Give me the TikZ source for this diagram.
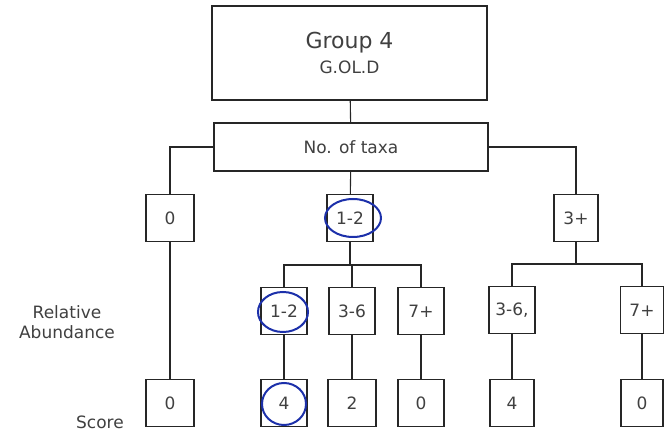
\documentclass[tikz,border=0pt]{standalone}
\usepackage{fontspec}
\setmainfont{DejaVu Sans}
\definecolor{pen}{RGB}{28,48,170}
\begin{document}
\begin{tikzpicture}[x=1pt,y=1pt,
  line/.style={draw=black!85, line width=1.1pt},
  box/.style={line, rectangle, inner sep=0pt, text=black!75,
    font=\fontsize{17}{19}\selectfont},
  cell/.style={box, minimum width=46pt, minimum height=47pt},
  lbl/.style={text=black!75, font=\fontsize{17}{20}\selectfont, align=center},
  ring/.style={draw=pen, line width=2pt}]
\useasboundingbox (0,0) rectangle (667,433);

% header boxes
\node[box, minimum width=275pt, minimum height=94pt, align=center] (top) at (349.5,380)
  {{\fontsize{22}{26}\selectfont Group 4}\\[6pt]G.OL.D};
\node[box, minimum width=274pt, minimum height=48pt] (taxa) at (351,286) {No. of taxa};

% number of taxa
\node[cell, minimum width=48pt] (n0)  at (170,215) {0};
\node[cell] (n12) at (350,215) {1-2};
\node[cell, minimum width=44pt] (n3p) at (576,215) {3+};

% relative abundance
\node[cell] (r12) at (284,122) {1-2};
\node[cell] (r36) at (352,122) {3-6};
\node[cell] (r7p) at (421,122) {7+};
\node[cell] (s36) at (512,123) {3-6,};
\node[cell, minimum width=43pt] (s7p) at (642,123) {7+};

% scores
\node[cell, minimum width=48pt] (b0)  at (170,30) {0};
\node[cell] (b4)  at (284,30) {4};
\node[cell, minimum width=48pt] (b2)  at (352,30) {2};
\node[cell] (b0b) at (421,30) {0};
\node[cell, minimum width=44pt] (b4b) at (512,30) {4};
\node[cell, minimum width=42pt] (b0c) at (642,30) {0};

% row labels
\node[lbl] (rel) at (67,111) {Relative\\Abundance};
\node[lbl] (score) at (100,11) {Score};

% connectors
\draw[line] (top) -- (taxa);
\draw[line] (taxa.west) -| (n0.north);
\draw[line] (taxa.east) -| (n3p.north);
\draw[line] (taxa) -- (n12);

\coordinate (j1) at (350,168);
\coordinate (j2) at (576,169);
\draw[line] (n12) -- (j1);
\draw[line] (r12.north) |- (j1) -| (r7p.north);
\draw[line] (r36.north) -- (r36.north |- j1);
\draw[line] (n3p) -- (j2);
\draw[line] (s36.north) |- (j2) -| (s7p.north);

\draw[line] (n0) -- (b0);
\draw[line] (r12) -- (b4);
\draw[line] (r36) -- (b2);
\draw[line] (r7p) -- (b0b);
\draw[line] (s36) -- (b4b);
\draw[line] (s7p) -- (b0c);

% hand-drawn circles
\draw[ring] (n12.center) ++(3,0) ellipse [x radius=28, y radius=19];
\draw[ring] (r12.center) ++(-1,-1) ellipse [x radius=25, y radius=20];
\draw[ring] (b4.center) ++(0,-1) ellipse [x radius=22, y radius=21];
\end{tikzpicture}
\end{document}
